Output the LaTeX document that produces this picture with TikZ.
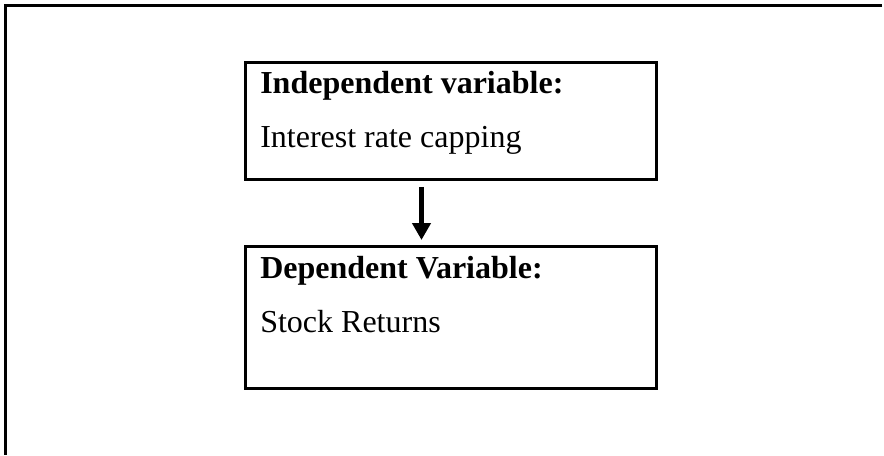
\documentclass[tikz,border=0pt]{standalone}
\usepackage{fontspec}
\setmainfont{Liberation Serif}
\usetikzlibrary{arrows.meta}
\begin{document}
\begin{tikzpicture}[x=0.75pt,y=-0.75pt,
  varbox/.style={draw,line width=2.25pt,anchor=north west,outer sep=0pt,inner sep=0pt,minimum width=308.25pt},
  vartext/.style={anchor=base west,inner sep=0pt,font=\fontsize{24}{28}\selectfont},
  flowarrow/.style={line width=3.4pt,-{Triangle[length=12.75pt,width=13.5pt]},shorten <=5.5pt,shorten >=4.5pt}]
\useasboundingbox (0,0) rectangle (884,455);

% frame, open on the right and at the bottom
\draw [line width=2.25pt] (882,5.5) -- (5.5,5.5) -- (5.5,455);

% independent variable
\node [varbox,minimum height=88.1pt] (indep) at (245,62) {};
\node [vartext] (indeptitle) at (260,93) {\textbf{Independent variable:}};
\node [vartext] (indepname) at (260,147) {Interest rate capping};

% dependent variable
\node [varbox,minimum height=106.5pt] (dep) at (245,246) {};
\node [vartext] (deptitle) at (260,278) {\textbf{Dependent Variable:}};
\node [vartext] (depname) at (260,332) {Stock Returns};

\draw [flowarrow] ([xshift=-21.75pt]indep.south) -- ([xshift=-21.75pt]dep.north);
\end{tikzpicture}
\end{document}
